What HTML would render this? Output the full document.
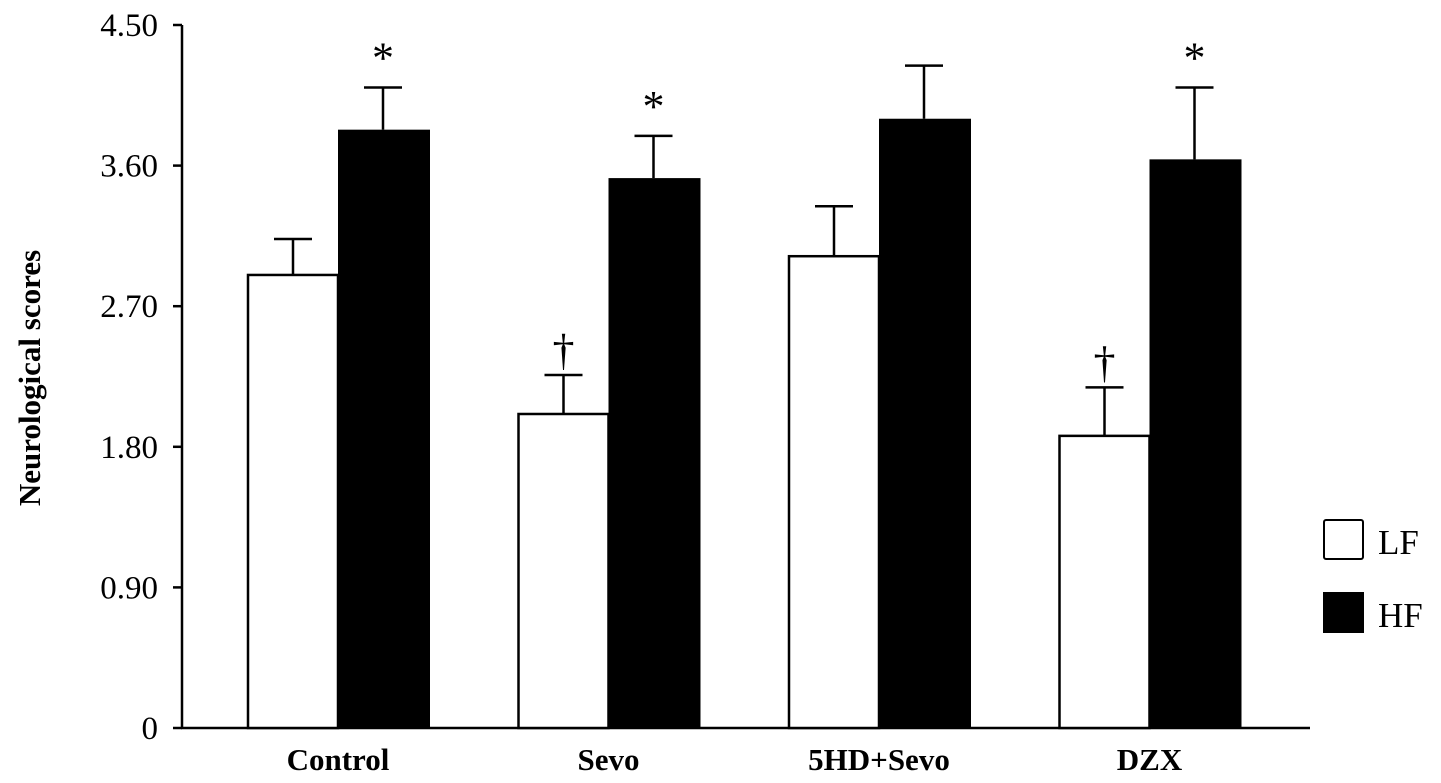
<!DOCTYPE html>
<html><head><meta charset="utf-8"><style>
body{margin:0;background:#fff;}
svg{display:block;font-family:"Liberation Serif",serif;}
</style></head><body>
<svg id="chart" width="1441" height="783">
<g id="axes"></g><g id="bars"></g>
<text transform="translate(40,378) rotate(-90)" text-anchor="middle" font-size="31" font-weight="bold">Neurological scores</text>
<rect x="1324" y="520" width="39" height="39" fill="#fff" stroke="#000" stroke-width="2" rx="2"/>
<text x="1378" y="554" font-size="35">LF</text>
<rect x="1323" y="592" width="41" height="41" fill="#000"/>
<text x="1378" y="627" font-size="35">HF</text>
</svg>
<script>
const categories=["Control","Sevo","5HD+Sevo","DZX"];
const lfValues=[2.90,2.01,3.02,1.87];
const lfErrors=[0.23,0.25,0.32,0.31];
const hfValues=[3.83,3.52,3.90,3.64];
const hfErrors=[0.27,0.27,0.34,0.46];
const lfMarks=["","†","","†"];
const hfMarks=["*","*","","*"];
const yTicks=[0,0.9,1.8,2.7,3.6,4.5];
const yTickLabels=["0","0.90","1.80","2.70","3.60","4.50"];

const NS="http://www.w3.org/2000/svg";
const y0=728,pxPerUnit=(728-25)/4.5;
const y=v=>y0-v*pxPerUnit;
const x=i=>248+i*270.5;
const bw=90;
function mk(tag,attrs,parent,txt){const e=document.createElementNS(NS,tag);for(const k in attrs)e.setAttribute(k,attrs[k]);if(txt!==undefined)e.textContent=txt;parent.appendChild(e);return e;}
const axes=document.getElementById('axes'),bars=document.getElementById('bars');
let yl=mk('line',{x1:182,y1:25,x2:182,y2:y0,stroke:'#000','stroke-width':2.5},axes);


let xl=mk('line',{x1:181,y1:y0,x2:1310,y2:y0,stroke:'#000','stroke-width':2.5},axes);


yTicks.forEach((t,i)=>{
 let tk=mk('line',{x1:173,y1:y(t),x2:182,y2:y(t),stroke:'#000','stroke-width':2.5},axes);
 
 
 let tl=mk('text',{x:158,y:y(t)+11,'text-anchor':'end','font-size':33},axes,yTickLabels[i]);
 
 
});
categories.forEach((c,i)=>{
 const xl0=x(i),xh0=x(i)+bw;
 [[xl0,lfValues[i],lfErrors[i]],[xh0,hfValues[i],hfErrors[i]]].forEach(([bx,v,e],j)=>{
  const cx=bx+bw/2;
  let eb=mk('path',{d:`M${cx},${y(v)} V${y(v+e)} M${cx-19},${y(v+e)} H${cx+19}`,stroke:'#000','stroke-width':2.5,fill:'none'},bars);
  
  
 });
 let r1=mk('rect',{x:xl0,y:y(lfValues[i]),width:bw,height:y0-y(lfValues[i]),fill:'#fff',stroke:'#000','stroke-width':2.5},bars);
 
 
 let r2=mk('rect',{x:xh0,y:y(hfValues[i]),width:bw+2,height:y0-y(hfValues[i]),fill:'#000'},bars);
 
 
 if(hfMarks[i]){let s=mk('text',{x:xh0+bw/2,y:y(hfValues[i]+hfErrors[i])-15,'text-anchor':'middle','font-size':44},bars,hfMarks[i]);
  
  }
 if(lfMarks[i]){let s=mk('text',{x:xl0+bw/2,y:y(lfValues[i]+lfErrors[i])-10,'text-anchor':'middle','font-size':44},bars,lfMarks[i]);
  
  }
 let lb=mk('text',{x:xh0,y:770,'text-anchor':'middle','font-size':31,'font-weight':'bold'},bars,c);
 
 
});
</script>
</body></html>
